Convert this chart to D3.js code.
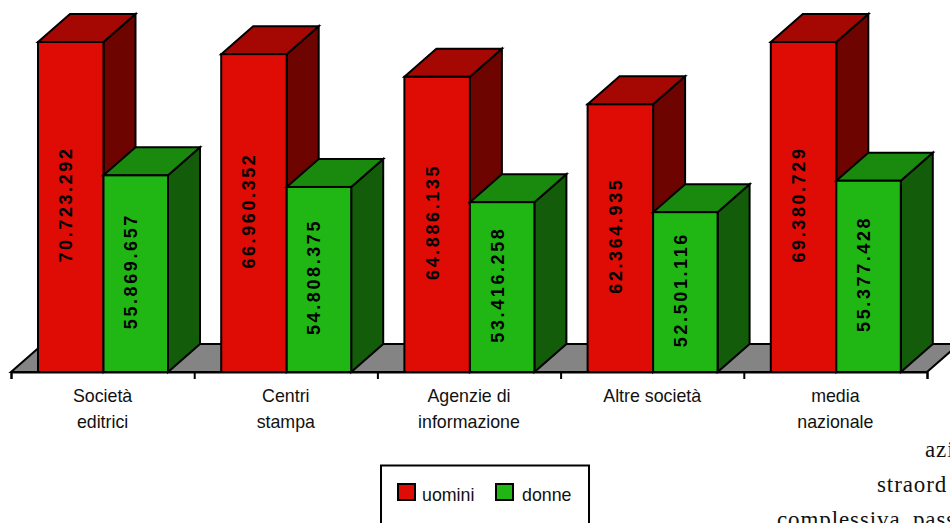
<!DOCTYPE html>
<html><head><meta charset="utf-8">
<script src="https://cdn.jsdelivr.net/npm/d3@7"></script>
<style>html,body{margin:0;padding:0;background:#fff;overflow:hidden}svg{display:block}</style>
</head><body><svg id="c" width="950" height="523"></svg>
<script>
const categories = [["Società","editrici"],["Centri","stampa"],["Agenzie di","informazione"],["Altre società"],["media","nazionale"]];
const uomini = [70723292,66960352,64886135,62364935,69380729];
const donne = [55869657,54808375,53416258,52501116,55377428];
const uominiLabels = ["70.723.292","66.960.352","64.886.135","62.364.935","69.380.729"];
const donneLabels = ["55.869.657","54.808.375","53.416.258","52.501.116","55.377.428"];
const legendNames = ["uomini","donne"];
const pageText = ["azi","straord","complessiva, pass"];
const FONT = "'Liberation Sans', Arial, sans-serif";
const svg = d3.select("#c");
const base=372, dx=32, dy=28;
const y = d3.scaleLinear().domain([37880000,68070000]).range([base,42]).clamp(true);
const x = d3.scaleBand().domain(d3.range(5)).range([11,927]);
const g = svg.append("g");
g.append("path").attr("d",`M${x.range()[0]},${base}L${x.range()[0]+dx},${base-dy}H${x.range()[1]+dx}L${x.range()[1]},${base}Z`)
 .attr("fill","#848484").attr("stroke","#000").attr("stroke-width",2).attr("stroke-linejoin","miter");
const wU=65.5, wD=64.5;
function box(px,w,val,front,top,side){
  const t=y(val);
  const b=g.append("g").attr("stroke","#000").attr("stroke-width",2).attr("stroke-linejoin","miter");
  b.append("path").attr("d",`M${px+w},${t}L${px+w+dx},${t-dy}V${base-dy}L${px+w},${base}Z`).attr("fill",side);
  b.append("path").attr("d",`M${px},${t}L${px+dx},${t-dy}H${px+w+dx}L${px+w},${t}Z`).attr("fill",top);
  b.append("rect").attr("x",px).attr("y",t).attr("width",w).attr("height",base-t).attr("fill",front);
}
function lab(cx,val,text){
  const t=y(val);
  svg.append("text").attr("transform",`translate(${cx+1.5},${(t+base)/2-2.5}) rotate(-90)`)
   .attr("text-anchor","middle").attr("font-family",FONT).attr("font-weight","bold").attr("font-size",18)
   .attr("letter-spacing",2.6).attr("fill","#000").text(text);
}
categories.forEach((c,i)=>{
  const p=x(i)+27;
  box(p,wU,uomini[i],"#df0b05","#a50802","#6e0400");
  box(p+wU,wD,donne[i],"#20b714","#1a8a0e","#125c0a");
});
categories.forEach((c,i)=>{
  const p=x(i)+27;
  lab(p+wU/2,uomini[i],uominiLabels[i]);
  lab(p+wU+wD/2,donne[i],donneLabels[i]);
});
const ax=d3.axisBottom(d3.scaleLinear().domain([0,5]).range([11,927])).ticks(5).tickSize(7).tickFormat("");
const axg=svg.append("g").attr("transform",`translate(0,${base})`).call(ax);
axg.selectAll("path").attr("stroke","#000").attr("stroke-width",2);
axg.selectAll("line").attr("stroke","#000").attr("stroke-width",2);
categories.forEach((c,i)=>{
  c.forEach((l,j)=>svg.append("text").attr("x",x(i)+x.bandwidth()/2).attr("y",402+j*25.5)
   .attr("text-anchor","middle").attr("font-family",FONT).attr("font-size",17.8).attr("fill","#111").text(l));
});
svg.append("rect").attr("x",381).attr("y",465.5).attr("width",208).attr("height",80).attr("fill","#fff").attr("stroke","#000").attr("stroke-width",2);
[[398,"#df0b05",422],[496,"#20b714",522]].forEach((d,i)=>{
  svg.append("rect").attr("x",d[0]).attr("y",484).attr("width",17).attr("height",16).attr("fill",d[1]).attr("stroke","#000").attr("stroke-width",2);
  svg.append("text").attr("x",d[2]).attr("y",501).attr("font-family",FONT).attr("font-size",17.8).attr("fill","#111").text(legendNames[i]);
});
[[925,457],[877,492],[777,526.5]].forEach((d,i)=>svg.append("text").attr("x",d[0]).attr("y",d[1]).attr("font-family","'Liberation Serif',serif").attr("font-size",23).attr("letter-spacing",0.9).attr("word-spacing",-1).attr("fill","#111").text(pageText[i]));
</script></body></html>
